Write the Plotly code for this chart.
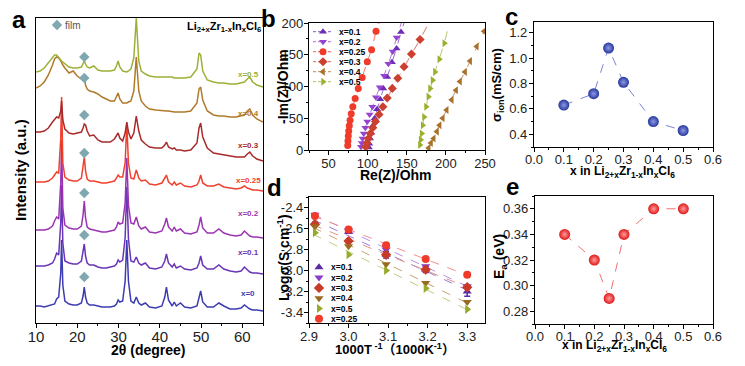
import numpy as np
import plotly.graph_objects as go

# Reference picture is 745x366; the page body adds an 8px margin, so the figure is
# drawn 16px smaller and every layout position below is given in reference pixels.
W, H = 745, 366
OFF = 8
WF, HF = W - 2 * OFF, H - 2 * OFF
FONT = "Liberation Sans, Arial, Noto Sans CJK SC, sans-serif"

# ---------------- Panel a: XRD patterns (heights in arbitrary units) ----------------
two_theta = [10, 11, 12, 13, 14, 14.5, 15, 15.5, 16, 16.2, 16.5, 17, 18, 19, 20,
             21, 21.4, 21.7, 22, 22.4, 23, 24, 25, 26, 27, 28, 29, 29.5, 29.9, 30.3,
             31, 31.6, 32, 32.4, 33, 33.7, 34.3, 34.9, 35.5, 36.5, 37.5, 39, 40.5, 41.2, 41.6,
             42.1, 43, 43.5, 44, 45, 46, 47.5, 49, 49.5, 49.9, 50.4, 51.5, 53, 54.3, 55.5,
             57, 58.5, 59.7, 60.5, 61.2, 61.8, 62.5, 63.5, 65]
xrd_x0 = [17, 17, 16, 17, 18, 19, 24, 26, 50, 83, 38, 22, 19, 18, 18,
          20, 27, 36, 26, 20, 18, 18, 17, 16, 16, 16, 17, 19, 23, 21,
          22, 42, 83, 42, 22, 20, 26, 20, 18, 20, 16, 15, 17, 26, 36,
          23, 17, 21, 17, 20, 16, 15, 17, 24, 32, 21, 16, 16, 20, 17,
          14, 14, 15, 18, 16, 14, 13, 13, 12]
xrd_x01 = [57, 57, 57, 58, 60, 64, 70, 68, 100, 138, 80, 62, 60, 59, 59,
           62, 70, 79, 67, 60, 58, 58, 56, 55, 55, 56, 57, 59, 63, 61,
           63, 85, 136, 84, 62, 61, 66, 60, 58, 60, 55, 54, 56, 62, 69,
           60, 56, 59, 55, 57, 54, 53, 55, 60, 67, 58, 54, 54, 58, 54,
           52, 51, 52, 56, 53, 51, 50, 50, 49]
xrd_x02 = [93, 93, 93, 94, 97, 102, 106, 104, 140, 183, 115, 98, 95, 94, 94,
           97, 108, 122, 105, 96, 94, 93, 92, 91, 91, 92, 93, 96, 101, 99,
           100, 120, 165, 118, 100, 99, 106, 97, 94, 96, 91, 90, 92, 99, 105,
           96, 92, 96, 92, 94, 90, 89, 91, 98, 106, 95, 90, 90, 94, 90,
           88, 87, 88, 92, 89, 87, 86, 86, 85]
xrd_x025 = [141, 141, 141, 142, 145, 148, 151, 150, 185, 226, 160, 146, 143, 142, 142,
            145, 155, 166, 152, 144, 142, 142, 141, 140, 140, 141, 142, 145, 148, 146,
            146, 160, 200, 160, 145, 144, 153, 145, 142, 143, 139, 138, 140, 145, 148,
            141, 138, 141, 138, 140, 137, 136, 138, 142, 148, 140, 137, 137, 139, 136,
            135, 134, 135, 137, 135, 134, 133, 133, 132]
xrd_x03 = [191, 191, 192, 195, 201, 204, 206, 205, 212, 222, 203, 194, 190, 189, 190,
           191, 195, 199, 198, 192, 187, 188, 183, 181, 181, 181, 184, 188, 190, 185,
           182, 190, 201, 191, 184, 190, 207, 192, 183, 179, 176, 175, 175, 178, 181,
           176, 174, 175, 173, 173, 172, 173, 180, 195, 200, 186, 175, 170, 169, 168,
           167, 166, 166, 166, 169, 171, 167, 164, 162]
xrd_x04 = [235, 237, 241, 248, 258, 264, 266, 265, 262, 260, 258, 255, 250, 252, 247,
           244, 244, 246, 238, 234, 232, 231, 229, 226, 224, 222, 222, 226, 230, 224,
           220, 220, 220, 221, 222, 232, 266, 232, 222, 217, 214, 213, 212, 212, 212,
           212, 211, 211, 211, 211, 211, 212, 220, 234, 236, 223, 212, 208, 207, 207,
           206, 206, 207, 208, 212, 214, 208, 204, 201]
xrd_x05 = [251, 252, 255, 260, 265, 268, 268, 266, 263, 262, 261, 259, 256, 255, 255,
           256, 259, 262, 259, 256, 255, 257, 253, 252, 252, 252, 253, 257, 262, 256,
           252, 251, 251, 252, 254, 265, 305, 262, 252, 249, 247, 246, 246, 246, 246,
           246, 246, 245, 245, 245, 245, 246, 254, 270, 268, 252, 243, 241, 240, 240,
           239, 239, 240, 241, 244, 246, 241, 238, 236]
xrd_series = [xrd_x0, xrd_x01, xrd_x02, xrd_x025, xrd_x03, xrd_x04, xrd_x05]
xrd_labels = ["x=0", "x=0.1", "x=0.2", "x=0.25", "x=0.3", "x=0.4", "x=0.5"]
xrd_colors = ["#3c3cb0", "#6934b6", "#9a34b2", "#f0402e", "#a82a2a", "#b07a2a", "#9cb036"]
film_peak = 21.7
film_heights = [46, 88, 130, 170, 208, 245, 266]

# ---------------- Panel b: Nyquist ----------------
eis_labels = ["x=0.1", "x=0.2", "x=0.25", "x=0.3", "x=0.4", "x=0.5"]
re_01 = [101.5, 102, 103, 104.5, 106.5, 109, 112, 116, 120, 125, 131, 137, 142.6]
im_01 = [4, 10, 18, 27, 38, 50, 64, 80, 97, 115, 138, 160, 186]
re_02 = [91.5, 92.5, 93.5, 95, 97, 99.5, 102.5, 106, 110.5, 115.5, 121, 126.5, 132, 137]
im_02 = [5, 11, 18, 26, 35, 45, 56, 68, 83, 99, 117, 136, 155, 177]
re_025 = [74.5, 74.8, 75.2, 75.8, 76.5, 77.5, 79, 81, 84, 88, 93, 99.5, 105, 110.7]
im_025 = [7, 14, 22, 30, 38, 47, 57, 68, 81, 97, 114, 139, 158, 187]
re_03 = [97.5, 99, 101, 103.5, 106.5, 110, 114.5, 119.5, 125, 131.5, 138.5, 146.5, 156, 167]
im_03 = [5, 11, 18, 26, 35, 45, 56, 68, 82, 97, 113, 131, 151, 174]
re_04 = [178, 181, 184.4, 188.6, 192, 196, 201, 207.5, 213, 218, 224.5, 231, 239.5, 249]
im_04 = [3, 11, 18, 29, 39, 50, 63, 79, 94, 108, 123, 140, 163, 187]
re_05 = [166.8, 167.7, 169, 170.3, 172, 174.6, 177.6, 179.7, 183, 186, 191.6, 198]
im_05 = [8, 16, 26, 39, 52, 68, 84, 97, 110, 123, 143, 168]
eis_re = [re_01, re_02, re_025, re_03, re_04, re_05]
eis_im = [im_01, im_02, im_025, im_03, im_04, im_05]
eis_end_re = [146.5, 143, 114.5, 178, 253, 204.4]   # where dashed guide lines leave the frame
eis_end_im = [200, 200, 200, 200, 197, 200]
eis_colors = ["#6a2fb4", "#9444d0", "#f03a2a", "#cc4030", "#a8702a", "#9cb030"]
eis_symbols = ["triangle-up", "triangle-down", "circle", "diamond", "triangle-left", "triangle-right"]

# ---------------- Panel c & e ----------------
x_in = [0.1, 0.2, 0.25, 0.3, 0.4, 0.5]
sigma_ion = [0.63, 0.72, 1.08, 0.81, 0.50, 0.43]
ea = [0.34, 0.32, 0.29, 0.34, 0.36, 0.36]

# ---------------- Panel d: Arrhenius ----------------
inv_T = [2.915, 3.0, 3.095, 3.195, 3.3]
arr_labels = ["x=0.1", "x=0.2", "x=0.3", "x=0.4", "x=0.5", "x=0.25"]
log_01 = [-2.55, -2.63, -2.85, -2.99, -3.20]
log_02 = [-2.47, -2.62, -2.80, -2.96, -3.15]
log_03 = [-2.56, -2.72, -2.85, -2.99, -3.16]
log_04 = [-2.58, -2.77, -2.94, -3.12, -3.30]
log_05 = [-2.64, -2.85, -3.00, -3.17, -3.37]
log_025 = [-2.48, -2.61, -2.76, -2.89, -3.04]
err_01 = [0.01, 0.015, 0.03, 0.03, 0.045]
arr_series = [log_01, log_02, log_03, log_04, log_05, log_025]
arr_colors = ["#5a2ca2", "#8a3cc8", "#c83a28", "#9a6a20", "#98aa2a", "#f03a2a"]
arr_line_colors = ["#9a80d6", "#b890e0", "#e09088", "#c8a070", "#c4cc80", "#f49090"]
arr_symbols = ["triangle-up", "triangle-down", "diamond", "triangle-down", "triangle-right", "circle"]
d_yticks = [-2.4, -2.6, -2.8, -3.0, -3.2, -3.4]
d_yticktext = ["-2.4", "-2.6", "-2.8", "-3.0", "-3.2", "-3.4"]


def dom_x(a, b):
    return [(a - OFF) / WF, (b - OFF) / WF]


def dom_y(top, bottom):
    return [1 - (bottom - OFF) / HF, 1 - (top - OFF) / HF]


fig = go.Figure()

# panel a traces
for vals, lab, col in zip(xrd_series, xrd_labels, xrd_colors):
    fig.add_trace(go.Scatter(x=two_theta, y=vals, mode="lines", line=dict(color=col, width=1.5),
                             xaxis="x", yaxis="y", showlegend=False, hoverinfo="skip"))
fig.add_trace(go.Scatter(x=[film_peak] * len(film_heights), y=film_heights, mode="markers",
                         marker=dict(symbol="diamond", size=8, color="#80a8b0"),
                         xaxis="x", yaxis="y", showlegend=False))

# panel b traces
for rx, iy, ex, ey, col, sym in zip(eis_re, eis_im, eis_end_re, eis_end_im, eis_colors, eis_symbols):
    fig.add_trace(go.Scatter(x=rx + [ex], y=iy + [ey], mode="lines",
                             line=dict(color=col, width=1, dash="dash"), opacity=0.7,
                             xaxis="x2", yaxis="y2", showlegend=False))
    fig.add_trace(go.Scatter(x=rx, y=iy, mode="markers",
                             marker=dict(symbol=sym, size=7, color=col),
                             xaxis="x2", yaxis="y2", showlegend=False))

# panel c
fig.add_trace(go.Scatter(x=x_in, y=sigma_ion, mode="lines+markers",
                         line=dict(color="#7c82dc", width=1, dash="dash"),
                         marker=dict(size=11, color="#27389c",
                                     gradient=dict(type="radial", color="#8c98e6")),
                         xaxis="x3", yaxis="y3", showlegend=False))
# panel e
fig.add_trace(go.Scatter(x=x_in, y=ea, mode="lines+markers",
                         line=dict(color="#f07070", width=1, dash="dash"),
                         marker=dict(size=11, color="#e01818",
                                     gradient=dict(type="radial", color="#ff9c9c")),
                         xaxis="x5", yaxis="y5", showlegend=False))

# panel d
for i, (vals, col, lcol, sym) in enumerate(zip(arr_series, arr_colors, arr_line_colors, arr_symbols)):
    k, b = np.polyfit(inv_T, vals, 1)
    xs = [inv_T[0] - 0.005, inv_T[-1] + 0.005]
    fig.add_trace(go.Scatter(x=xs, y=[k * v + b for v in xs], mode="lines",
                             line=dict(color=lcol, width=1, dash="dash"),
                             xaxis="x4", yaxis="y4", showlegend=False))
for i, (vals, col, sym) in enumerate(zip(arr_series, arr_colors, arr_symbols)):
    err = dict(type="data", array=err_01, color=col, thickness=1.5, width=3) if i == 0 else None
    fig.add_trace(go.Scatter(x=inv_T, y=vals, mode="markers", error_y=err,
                             marker=dict(symbol=sym, size=8, color=col),
                             xaxis="x4", yaxis="y4", showlegend=False))

# ----- hand-made compact legends on a pixel overlay axis (reference pixel units) -----
b_leg_x, b_leg_y0, b_leg_dy = 323, 31.7, 10.0
for i, (lab, col, sym) in enumerate(zip(eis_labels, eis_colors, eis_symbols)):
    yy = b_leg_y0 + i * b_leg_dy
    fig.add_trace(go.Scatter(x=[b_leg_x - 10, b_leg_x + 10], y=[yy, yy], mode="lines",
                             line=dict(color=col, width=1, dash="3px,2px"), opacity=0.8,
                             xaxis="x6", yaxis="y6", showlegend=False))
    fig.add_trace(go.Scatter(x=[b_leg_x], y=[yy], mode="markers",
                             marker=dict(symbol=sym, size=7, color=col),
                             xaxis="x6", yaxis="y6", showlegend=False))
d_leg_x, d_leg_y0, d_leg_dy = 319, 267.3, 10.3
for i, (lab, col, sym) in enumerate(zip(arr_labels, arr_colors, arr_symbols)):
    yy = d_leg_y0 + i * d_leg_dy
    fig.add_trace(go.Scatter(x=[d_leg_x], y=[yy], mode="markers",
                             marker=dict(symbol=sym, size=8, color=col),
                             xaxis="x6", yaxis="y6", showlegend=False))
fig.add_trace(go.Scatter(x=[57], y=[25], mode="markers",
                         marker=dict(symbol="diamond", size=8, color="#80a8b0"),
                         xaxis="x6", yaxis="y6", showlegend=False))

ann = []


def A(text, x, y, size=12, color="black", angle=0, xanchor="center", yanchor="middle"):
    ann.append(dict(text=text, x=(x - OFF) / WF, y=1 - (y - OFF) / HF, xref="paper", yref="paper",
                    showarrow=False, textangle=angle, xanchor=xanchor, yanchor=yanchor,
                    font=dict(family=FONT, size=size, color=color)))


for i, lab in enumerate(eis_labels):
    A("<b>%s</b>" % lab, b_leg_x + 14, b_leg_y0 + i * b_leg_dy, size=8.5, xanchor="left")
for i, lab in enumerate(arr_labels):
    A("<b>%s</b>" % lab, d_leg_x + 10, d_leg_y0 + i * d_leg_dy, size=8.5, xanchor="left")
A("film", 63, 25, size=10, color="#555555", xanchor="left")

# panel a curve labels
a_label_y = [293, 252, 213, 180, 145, 113, 75]
for lab, col, yy in zip(xrd_labels, xrd_colors, a_label_y):
    A("<b>%s</b>" % lab, 248, yy, size=8, color=col)
A("<b>Li<sub>2+x</sub>Zr<sub>1-x</sub>In<sub>x</sub>Cl<sub>6</sub></b>", 224, 27, size=11)

# panel letters
for let, x, y in [("a", 19, 20), ("b", 268, 18), ("c", 511, 16), ("d", 274, 187), ("e", 512, 186)]:
    A("<b>%s</b>" % let, x, y, size=24)

# axis titles
A("<b>Intensity (a.u.)</b>", 20, 170, size=15, angle=-90)
A("<b>2θ (degree)</b>", 148, 350, size=14)
A("<b>-Im(Z)/Ohm</b>", 283, 87, size=14, angle=-90)
A("<b>Re(Z)/Ohm</b>", 396, 175, size=14)
A("<b>σ<sub>ion</sub>(mS/cm)</b>", 498, 85, size=13, angle=-90)
A("<b>x in Li<sub>2+x</sub>Zr<sub>1-x</sub>In<sub>x</sub>Cl<sub>6</sub></b>", 622, 172, size=12)
A("<b>Logσ(S cm<sup>-1</sup>)</b>", 283, 258, size=14, angle=-90)
A("<b>1000T<sup> -1</sup>（1000K<sup>-1</sup>）</b>", 395, 349, size=13)
A("<b>E<sub>a</sub> (eV)</b>", 500, 257, size=14, angle=-90)
A("<b>x in Li<sub>2+x</sub>Zr<sub>1-x</sub>In<sub>x</sub>Cl<sub>6</sub></b>", 614, 346, size=12)

tickfont = dict(family=FONT, size=13, color="#222222")
base = dict(showline=True, linecolor="black", linewidth=1.3, mirror=True, showgrid=False,
            zeroline=False, ticks="outside", ticklen=4, tickwidth=1.2, tickcolor="black",
            tickfont=tickfont, automargin=False)


def ax(domain, anchor, rng, dtick=None, minor=None, **kw):
    d = dict(base)
    d.update(domain=domain, anchor=anchor, range=rng)
    if dtick is not None:
        d["dtick"] = dtick
    if minor is not None:
        d["minor"] = dict(dtick=minor, ticks="outside", ticklen=2, tickwidth=1, tickcolor="black")
    d.update(kw)
    return d


layout = dict(
    width=WF, height=HF, margin=dict(l=0, r=0, t=0, b=0, pad=0), autosize=False,
    paper_bgcolor="white", plot_bgcolor="rgba(0,0,0,0)", showlegend=False,
    xaxis=ax(dom_x(36, 263), "y", [10, 65], 10, 5, tick0=10, ticklabelstandoff=-4,
             tickfont=dict(family=FONT, size=15, color="#222222")),
    yaxis=ax(dom_y(18, 323), "x", [0, 305], showticklabels=False, ticks=""),
    xaxis2=ax(dom_x(309, 485), "y2", [25, 250], 50, 25, tick0=50, ticklabelstandoff=-3),
    yaxis2=ax(dom_y(23, 150), "x2", [0, 200], 50, 25, ticklabelstandoff=-2),
    xaxis3=ax(dom_x(534, 713), "y3", [0, 0.6], 0.1, 0.05, tickformat=".1f", ticklabelstandoff=-4),
    yaxis3=ax(dom_y(22, 147), "x3", [0.3, 1.285], 0.2, 0.1, tick0=0.4, tickformat=".1f",
              ticklabelstandoff=-1),
    xaxis4=ax(dom_x(309, 485), "y4", [2.9, 3.345], 0.1, 0.05, tickformat=".1f", ticklabelstandoff=-3),
    yaxis4=ax(dom_y(197, 323), "x4", [-3.5, -2.3], None, 0.1, tickvals=d_yticks,
              ticktext=d_yticktext, ticklabelstandoff=-2),
    xaxis5=ax(dom_x(535, 713), "y5", [0, 0.6], 0.1, 0.05, tickformat=".1f", ticklabelstandoff=-4),
    yaxis5=ax(dom_y(196, 324), "x5", [0.27, 0.37], 0.02, 0.01, tickformat=".2f",
              ticklabelstandoff=-1),
    xaxis6=dict(domain=[0, 1], anchor="y6", range=[OFF, OFF + WF], visible=False, fixedrange=True),
    yaxis6=dict(domain=[0, 1], anchor="x6", range=[OFF + HF, OFF], visible=False, fixedrange=True),
    annotations=ann,
    font=dict(family=FONT),
)
fig.update_layout(**layout)
fig.write_html("out.html")
